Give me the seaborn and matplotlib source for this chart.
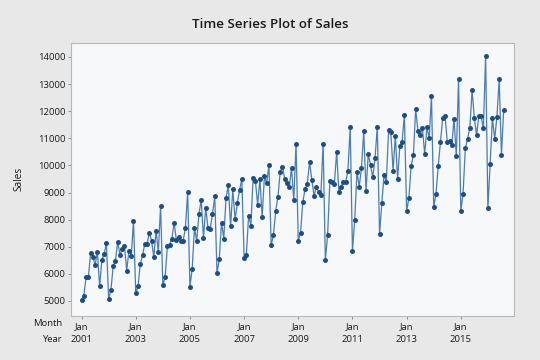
import pandas as pd
import seaborn as sns
import matplotlib.pyplot as plt
import matplotlib.transforms as mtransforms

# monthly sales, Jan 2001 .. Aug 2016
sales_2001_2004 = [5050, 5200, 5870, 5870, 6760, 6630, 6330, 6810, 5550, 6510, 6730, 7130,
                   5085, 5400, 6290, 6490, 7180, 6710, 6910, 7030, 6120, 6860, 6660, 7950,
                   5280, 5550, 6360, 6690, 7100, 7100, 7520, 7225, 6610, 7590, 6810, 8490,
                   5590, 5870, 7020, 7080, 7300, 7880, 7250, 7360, 7225, 7225, 7690, 9020]
sales_2005_2008 = [5530, 6180, 7690, 7225, 8200, 8730, 7320, 8440, 7700, 7670, 8210, 8860,
                   6020, 6560, 7890, 7300, 8800, 9280, 7750, 9120, 8010, 8600, 9100, 9500,
                   6590, 6700, 8150, 7780, 9540, 9440, 8550, 9500, 8090, 9600, 9340, 10020,
                   7070, 7430, 8330, 8850, 9770, 9950, 9500, 9340, 9195, 9910, 8730, 10790]
sales_2009_2012 = [7225, 7520, 8650, 9120, 9320, 10140, 9460, 8880, 9220, 9020, 8900, 10800,
                   6510, 7430, 9440, 9390, 9320, 10510, 9020, 9220, 9380, 9380, 9810, 11410,
                   6860, 7970, 9770, 9220, 9910, 11260, 9050, 10410, 10020, 9560, 10260, 11430,
                   7460, 8600, 9660, 9390, 11300, 11230, 9810, 11100, 9490, 10710, 10880, 11860]
sales_2013_2016 = [8310, 8800, 9980, 10390, 12080, 11280, 11120, 11370, 10410, 11420, 11000, 12575,
                   8470, 8960, 9970, 10880, 11740, 11840, 10880, 10900, 10750, 11710, 10340, 13190,
                   8320, 8960, 10630, 10980, 11390, 12770, 11740, 11120, 11840, 11810, 11370, 14030,
                   8420, 10050, 11740, 10980, 11790, 13170, 10390, 12060]

sales = sales_2001_2004 + sales_2005_2008 + sales_2009_2012 + sales_2013_2016
years = [2001, 2003, 2005, 2007, 2009, 2011, 2013, 2015]
yticks = list(range(5000, 14001, 1000))

df = pd.DataFrame({"Index": range(len(sales)), "Sales": sales})

sns.set_style("white")
plt.rcParams['font.family'] = ['Open Sans', 'DejaVu Sans']

fig = plt.figure(figsize=(5.4, 3.6), dpi=100, facecolor="#e8e8e8")
ax = fig.add_axes([0.132, 0.1236, 0.82, 0.757])
ax.set_facecolor("#f7f8fa")

sns.lineplot(data=df, x="Index", y="Sales", ax=ax, color="#4a7db0", linewidth=0.9,
             marker="o", markersize=3.6, markerfacecolor="#1d4f86",
             markeredgecolor="#1d4f86", markeredgewidth=0)

ax.set_xlim(-4.56, 191.6)
ax.set_ylim(4465, 14516)
ax.set_yticks(yticks)
ax.set_yticklabels([str(v) for v in yticks])
ax.set_xticks([(y - 2001) * 12 for y in years])
ax.set_xticklabels([f"Jan\n{y}" for y in years], linespacing=1.6)
ax.set_xlabel("")
ax.set_ylabel("")

ax.tick_params(axis="both", direction="out", length=2.5, width=0.6, color="#808080",
               labelsize=6.8, labelcolor="#1a1a1a", pad=1.5)
ax.tick_params(axis="x", pad=2.2)
ax.tick_params(left=True, bottom=True)
for s in ax.spines.values():
    s.set_color("#b8b8b8")
    s.set_linewidth(0.8)

# Month / Year row captions to the left of the axis
trans = mtransforms.blended_transform_factory(ax.transAxes, fig.transFigure)
ax.text(-0.021, 1 - 324 / 360, "Month", transform=trans, ha="right", va="center",
        fontsize=6.8, color="#1a1a1a")
ax.text(-0.021, 1 - 339.6 / 360, "Year", transform=trans, ha="right", va="center",
        fontsize=6.8, color="#1a1a1a")

fig.text(19 / 540, 0.503, "Sales", rotation=90, ha="center", va="center",
         fontsize=7.2, color="#1a1a1a")
fig.text(0.5, 1 - 25 / 360, "Time Series Plot of Sales", ha="center", va="center",
         fontsize=9.6, fontweight="semibold", color="#1a1a1a")

fig.savefig("out.png", dpi=100, facecolor=fig.get_facecolor())
